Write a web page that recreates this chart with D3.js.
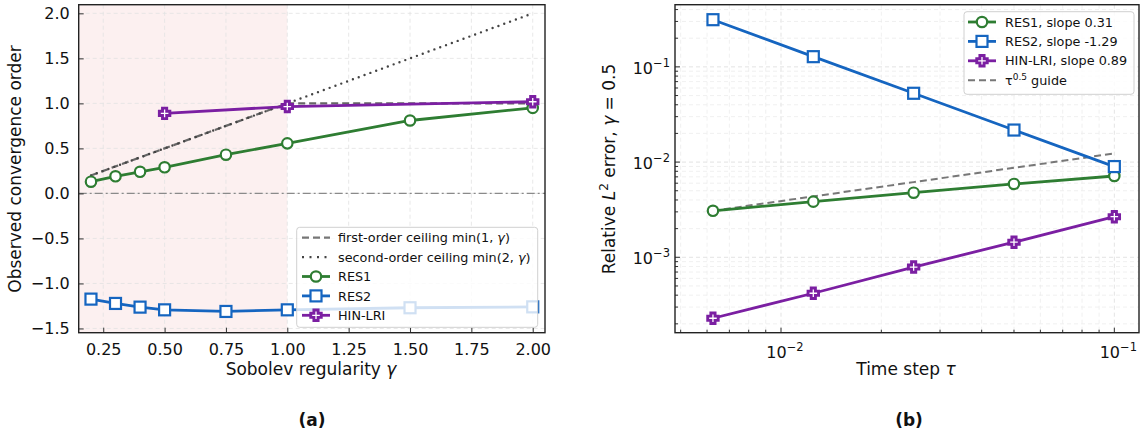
<!DOCTYPE html>
<html>
<head>
<meta charset="utf-8">
<script src="https://cdn.jsdelivr.net/npm/d3@7"></script>
<style>
  body { margin: 0; background: #fff; }
  svg { font-family: "DejaVu Sans", sans-serif; }
</style>
</head>
<body>
<svg width="1141" height="436"></svg>
<script>
// ---- data: panel (a) ----
const gammas = [0.2, 0.3, 0.4, 0.5, 0.75, 1.0, 1.5, 2.0];
const res1Order = [0.13, 0.19, 0.24, 0.29, 0.43, 0.556, 0.81, 0.95];
const res2Order = [-1.174, -1.222, -1.263, -1.293, -1.311, -1.293, -1.27, -1.26];
const hinGammas = [0.5, 1.0, 2.0];
const hinOrder = [0.889, 0.965, 1.018];
const firstCeil = [0.2, 0.3, 0.4, 0.5, 0.75, 1.0, 1.0, 1.0];
const secondCeil = [0.2, 0.3, 0.4, 0.5, 0.75, 1.0, 1.5, 2.0];
const xTicksA = [0.25, 0.5, 0.75, 1.0, 1.25, 1.5, 1.75, 2.0];
const yTicksA = [-1.5, -1.0, -0.5, 0.0, 0.5, 1.0, 1.5, 2.0];

// ---- data: panel (b) ----
const taus = [0.00625, 0.0125, 0.025, 0.05, 0.1];
const res1Err = [0.00308, 0.00384, 0.00477, 0.00589, 0.00714];
const res2Err = [0.313, 0.128, 0.0528, 0.0217, 0.00897];
const hinErr = [0.000229, 0.000419, 0.00079, 0.00144, 0.00267];
const guideErr = [0.00308, 0.00436, 0.00616, 0.00871, 0.01232];
const legendB = ["RES1, slope 0.31", "RES2, slope -1.29", "HIN-LRI, slope 0.89"];

const C1 = "#2e7d32", C2 = "#1565c0", C3 = "#7b1fa2";
const TICK_FS = 16, LABEL_FS = 17, LEG_FS = 12.8;

const svg = d3.select("svg");

function plusPath(s) {
  const a = s / 2, b = s / 5;
  return `M${-b},${-a}H${b}V${-b}H${a}V${b}H${b}V${a}H${-b}V${b}H${-a}V${-b}H${-b}Z`;
}

function drawMarkers(g, pts, kind, color) {
  const m = g.selectAll(null).data(pts).enter();
  if (kind === "circle") {
    m.append("circle").attr("cx", d => d[0]).attr("cy", d => d[1]).attr("r", 5.2)
      .attr("fill", "#fff").attr("stroke", color).attr("stroke-width", 2.2);
  } else if (kind === "square") {
    m.append("rect").attr("x", d => d[0] - 5.5).attr("y", d => d[1] - 5.5)
      .attr("width", 11).attr("height", 11)
      .attr("fill", "#fff").attr("stroke", color).attr("stroke-width", 2.2);
  } else {
    m.append("path").attr("d", plusPath(10.5)).attr("transform", d => `translate(${d[0]},${d[1]})`)
      .attr("fill", "#fff").attr("stroke", color).attr("stroke-width", 2.9)
      .attr("stroke-linejoin", "miter");
  }
}

function series(g, xs, ys, x, y, color, kind) {
  const pts = xs.map((v, i) => [x(v), y(ys[i])]);
  g.append("path").datum(pts).attr("d", d3.line())
    .attr("fill", "none").attr("stroke", color).attr("stroke-width", 2.8)
    .attr("stroke-linejoin", "round");
  drawMarkers(g, pts, kind, color);
}

function legendHandle(g, x0, yy, color, kind, dash, w) {
  g.append("line").attr("x1", x0).attr("x2", x0 + 28).attr("y1", yy).attr("y2", yy)
    .attr("stroke", color).attr("stroke-width", w || 2.8).attr("stroke-dasharray", dash || null);
  if (kind) drawMarkers(g, [[x0 + 14, yy]], kind, color);
}

// ================= panel (a) =================
const A = { l: 78.7, r: 545, t: 4.7, b: 332.7 };
const xa = d3.scaleLinear().domain([0.15, 2.05]).range([A.l, A.r]);
const ya = d3.scaleLinear().domain([-1.547, 2.096]).range([A.b, A.t]);

svg.append("clipPath").attr("id", "clipA").append("rect")
  .attr("x", A.l).attr("y", A.t).attr("width", A.r - A.l).attr("height", A.b - A.t);

const ga = svg.append("g");
ga.append("rect").attr("x", xa(0.15)).attr("y", A.t).attr("width", xa(1.0) - xa(0.15))
  .attr("height", A.b - A.t).attr("fill", "#fcf0f0");

// grid
ga.selectAll(null).data(xTicksA).enter().append("line")
  .attr("x1", d => xa(d)).attr("x2", d => xa(d)).attr("y1", A.t).attr("y2", A.b)
  .attr("stroke", "#e2e2e2").attr("stroke-width", 0.8).attr("stroke-dasharray", "4,3");
ga.selectAll(null).data(yTicksA).enter().append("line")
  .attr("x1", A.l).attr("x2", A.r).attr("y1", d => ya(d)).attr("y2", d => ya(d))
  .attr("stroke", "#e2e2e2").attr("stroke-width", 0.8).attr("stroke-dasharray", "4,3");

const pa = ga.append("g").attr("clip-path", "url(#clipA)");
pa.append("line").attr("x1", A.l).attr("x2", A.r).attr("y1", ya(0)).attr("y2", ya(0))
  .attr("stroke", "#8a8a8a").attr("stroke-width", 1.3).attr("stroke-dasharray", "8,3,2,3");
pa.append("path").datum(gammas.map((v, i) => [xa(v), ya(firstCeil[i])])).attr("d", d3.line())
  .attr("fill", "none").attr("stroke", "#666").attr("stroke-width", 2.2).attr("stroke-dasharray", "7,4");
pa.append("path").datum(gammas.map((v, i) => [xa(v), ya(secondCeil[i])])).attr("d", d3.line())
  .attr("fill", "none").attr("stroke", "#444").attr("stroke-width", 2.4)
  .attr("stroke-dasharray", "0,6.2").attr("stroke-linecap", "round");

series(pa, gammas, res1Order, xa, ya, C1, "circle");
series(pa, gammas, res2Order, xa, ya, C2, "square");
series(pa, hinGammas, hinOrder, xa, ya, C3, "plus");

// axes
const axA = svg.append("g");
axA.append("g").attr("transform", `translate(0,${A.b})`)
  .call(d3.axisBottom(xa).tickValues(xTicksA).tickFormat(d3.format(".2f")).tickSizeInner(-5).tickSizeOuter(0).tickPadding(11))
  .call(g => g.select(".domain").remove());
axA.append("g").attr("transform", `translate(${A.l},0)`)
  .call(d3.axisLeft(ya).tickValues(yTicksA).tickFormat(d => d3.format(".1f")(d).replace("-", "\u2212")).tickSizeInner(-5).tickSizeOuter(0).tickPadding(9))
  .call(g => g.select(".domain").remove());
axA.selectAll("text").attr("font-size", TICK_FS).attr("fill", "#111").attr("font-family", "DejaVu Sans");
axA.selectAll(".tick line").attr("stroke", "#333").attr("stroke-width", 1);

svg.append("rect").attr("x", A.l).attr("y", A.t).attr("width", A.r - A.l).attr("height", A.b - A.t)
  .attr("fill", "none").attr("stroke", "#222").attr("stroke-width", 1.4);

// legend (a)
const la = svg.append("g");
la.append("rect").attr("x", 296.7).attr("y", 227.3).attr("width", 241).attr("height", 100)
  .attr("rx", 3).attr("fill", "#fff").attr("fill-opacity", 0.8).attr("stroke", "#d0d0d0").attr("stroke-width", 1);
const legA = [
  { t: ["first-order ceiling min(1, ", "γ", ")"], c: "#777", dash: "7,4", w: 2.2 },
  { t: ["second-order ceiling min(2, ", "γ", ")"], c: "#444", dash: "2,5.5", w: 2.2 },
  { t: ["RES1"], c: C1, kind: "circle" },
  { t: ["RES2"], c: C2, kind: "square" },
  { t: ["HIN-LRI"], c: C3, kind: "plus" }
];
legA.forEach((e, i) => {
  const yy = 237.7 + i * 19.4;
  legendHandle(la, 302, yy, e.c, e.kind, e.dash, e.w);
  const tx = la.append("text").attr("x", 338).attr("y", yy + 4.6).attr("font-size", LEG_FS).attr("fill", "#111");
  e.t.forEach((s, k) => tx.append("tspan").text(s).attr("font-style", k === 1 ? "italic" : null));
});

// labels (a)
svg.append("text").attr("x", 311).attr("y", 375).attr("text-anchor", "middle").attr("font-size", LABEL_FS)
  .attr("fill", "#111").text("Sobolev regularity ").append("tspan").attr("font-style", "italic").text("γ");
svg.append("text").attr("transform", "translate(21,169) rotate(-90)").attr("text-anchor", "middle")
  .attr("font-size", LABEL_FS).attr("fill", "#111").text("Observed convergence order");
svg.append("text").attr("x", 312).attr("y", 426).attr("text-anchor", "middle").attr("font-size", 17)
  .attr("font-weight", "bold").attr("fill", "#111").text("(a)");

// ================= panel (b) =================
const B = { l: 675, r: 1139, t: 4.7, b: 332.7 };
const xb = d3.scaleLog().domain([Math.pow(10, -2.318), Math.pow(10, -0.926)]).range([B.l, B.r]);
const yb = d3.scaleLog().domain([Math.pow(10, -3.792), Math.pow(10, -0.347)]).range([B.b, B.t]);

svg.append("clipPath").attr("id", "clipB").append("rect")
  .attr("x", B.l).attr("y", B.t).attr("width", B.r - B.l).attr("height", B.b - B.t);

const gb = svg.append("g");
const xTicksB = xb.ticks();
const yTicksB = yb.ticks();
const isMajor = v => Math.abs(Math.log10(v) - Math.round(Math.log10(v))) < 1e-6;

gb.selectAll(null).data(xTicksB).enter().append("line")
  .attr("x1", d => xb(d)).attr("x2", d => xb(d)).attr("y1", B.t).attr("y2", B.b)
  .attr("stroke", d => isMajor(d) ? "#dcdcdc" : "#ececec").attr("stroke-width", 0.8).attr("stroke-dasharray", "4,3");
gb.selectAll(null).data(yTicksB).enter().append("line")
  .attr("x1", B.l).attr("x2", B.r).attr("y1", d => yb(d)).attr("y2", d => yb(d))
  .attr("stroke", d => isMajor(d) ? "#dcdcdc" : "#ececec").attr("stroke-width", 0.8).attr("stroke-dasharray", "4,3");

const pb = gb.append("g").attr("clip-path", "url(#clipB)");
pb.append("path").datum(taus.map((v, i) => [xb(v), yb(guideErr[i])])).attr("d", d3.line())
  .attr("fill", "none").attr("stroke", "#777").attr("stroke-width", 2).attr("stroke-dasharray", "7,4");
series(pb, taus, res1Err, xb, yb, C1, "circle");
series(pb, taus, res2Err, xb, yb, C2, "square");
series(pb, taus, hinErr, xb, yb, C3, "plus");

// ticks (b)
const tkB = svg.append("g");
tkB.selectAll(null).data(xTicksB).enter().append("line")
  .attr("x1", d => xb(d)).attr("x2", d => xb(d)).attr("y1", B.b).attr("y2", d => B.b - (isMajor(d) ? 5 : 3))
  .attr("stroke", "#333");
tkB.selectAll(null).data(yTicksB).enter().append("line")
  .attr("y1", d => yb(d)).attr("y2", d => yb(d)).attr("x1", B.l).attr("x2", d => B.l + (isMajor(d) ? 5 : 3))
  .attr("stroke", "#333");

function powLabel(g, x, y, exp, anchor) {
  const t = g.append("text").attr("x", x).attr("y", y).attr("text-anchor", anchor)
    .attr("font-size", TICK_FS).attr("fill", "#111");
  t.append("tspan").text("10");
  t.append("tspan").attr("dy", -7).attr("font-size", 11.5).text("\u2212" + exp);
}
xTicksB.filter(isMajor).forEach(v => powLabel(svg, xb(v) + 4, 358, -Math.round(Math.log10(v)), "middle"));
yTicksB.filter(isMajor).forEach(v => powLabel(svg, B.l - 5, yb(v) + 7, -Math.round(Math.log10(v)), "end"));

svg.append("rect").attr("x", B.l).attr("y", B.t).attr("width", B.r - B.l).attr("height", B.b - B.t)
  .attr("fill", "none").attr("stroke", "#222").attr("stroke-width", 1.4);

// legend (b)
const lb = svg.append("g");
lb.append("rect").attr("x", 964).attr("y", 11.7).attr("width", 170).attr("height", 82.6)
  .attr("rx", 3).attr("fill", "#fff").attr("fill-opacity", 0.8).attr("stroke", "#d0d0d0").attr("stroke-width", 1);
const kindsB = ["circle", "square", "plus"];
const colorsB = [C1, C2, C3];
legendB.forEach((s, i) => {
  const yy = 22 + i * 19.4;
  legendHandle(lb, 968, yy, colorsB[i], kindsB[i]);
  lb.append("text").attr("x", 1005).attr("y", yy + 4.6).attr("font-size", LEG_FS).attr("fill", "#111").text(s);
});
{
  const yy = 22 + 3 * 19.4;
  legendHandle(lb, 968, yy, "#777", null, "7,4", 2);
  const t = lb.append("text").attr("x", 1005).attr("y", yy + 4.6).attr("font-size", LEG_FS).attr("fill", "#111");
  t.append("tspan").text("τ");
  t.append("tspan").attr("dy", -5).attr("font-size", 9).text("0.5");
  t.append("tspan").attr("dy", 5).text(" guide");
}

// labels (b)
svg.append("text").attr("x", 906).attr("y", 375).attr("text-anchor", "middle").attr("font-size", LABEL_FS)
  .attr("fill", "#111").text("Time step ").append("tspan").attr("font-style", "italic").text("τ");
{
  const t = svg.append("text").attr("transform", "translate(615,169) rotate(-90)").attr("text-anchor", "middle")
    .attr("font-size", LABEL_FS).attr("fill", "#111");
  t.append("tspan").text("Relative ");
  t.append("tspan").attr("font-style", "italic").text("L");
  t.append("tspan").attr("dy", -7).attr("font-size", 12).text("2");
  t.append("tspan").attr("dy", 7).text(" error, ");
  t.append("tspan").attr("font-style", "italic").text("γ");
  t.append("tspan").text(" = 0.5");
}
svg.append("text").attr("x", 909).attr("y", 426).attr("text-anchor", "middle").attr("font-size", 17)
  .attr("font-weight", "bold").attr("fill", "#111").text("(b)");
</script>
</body>
</html>
